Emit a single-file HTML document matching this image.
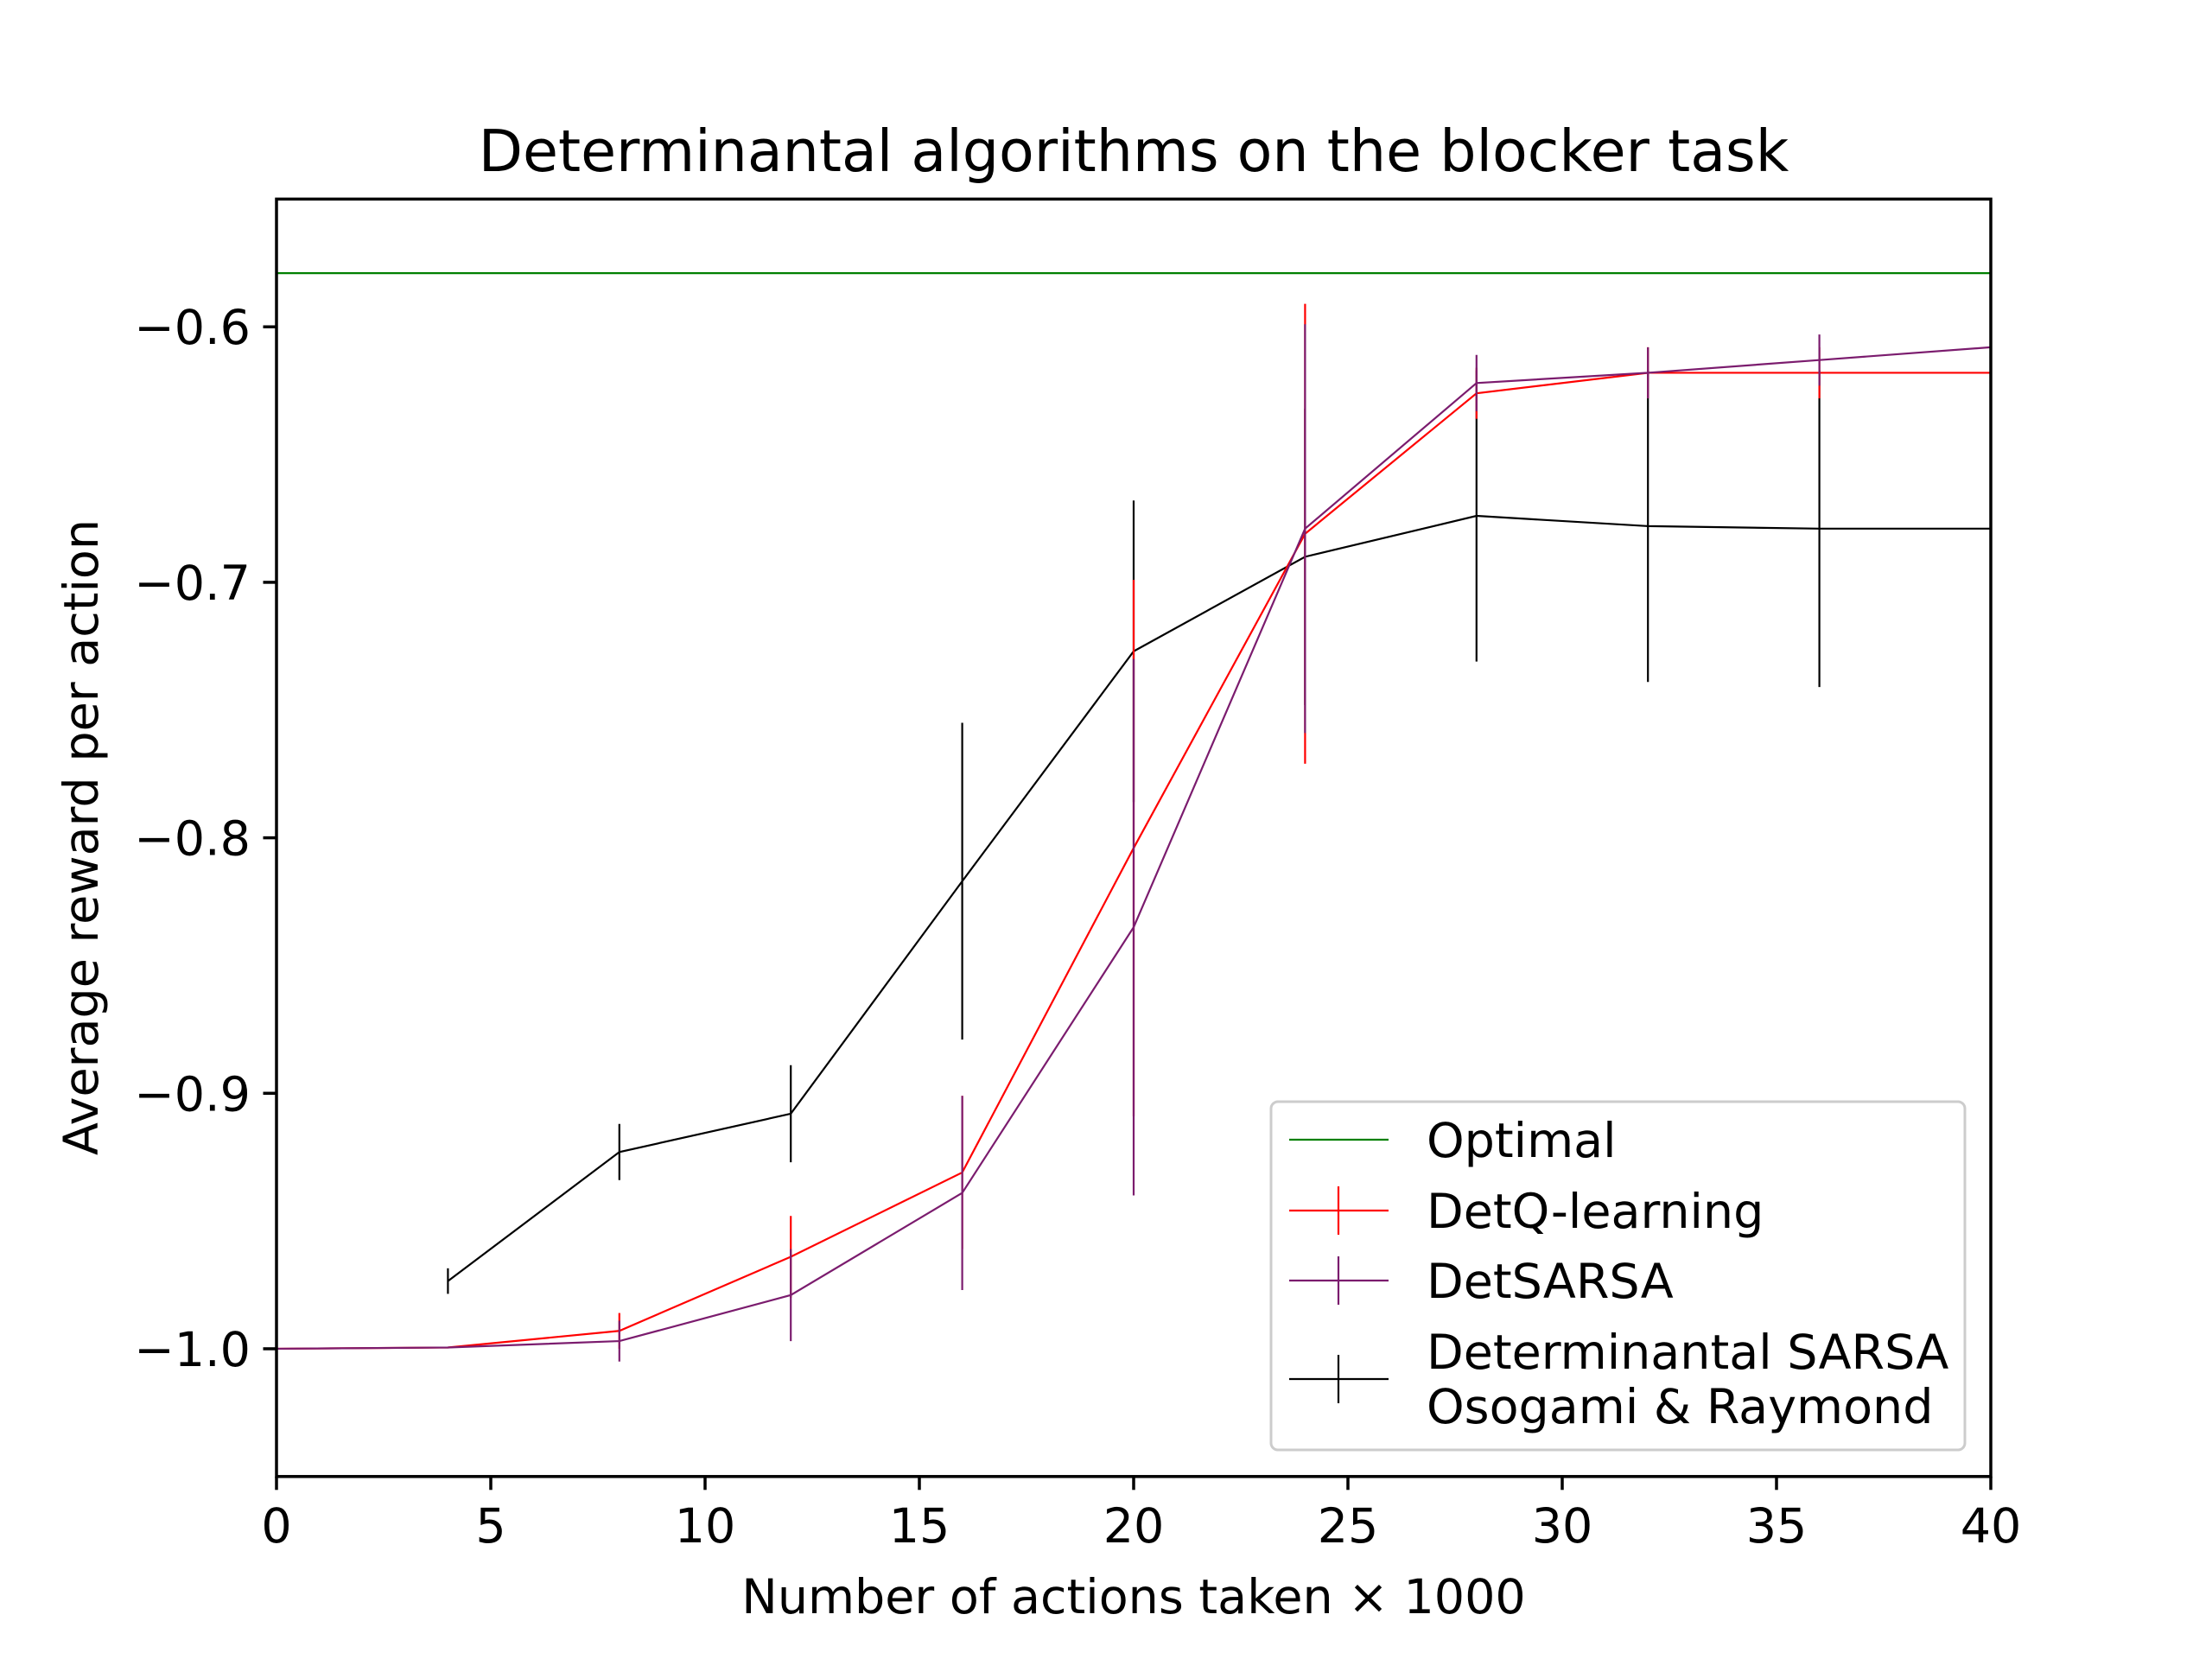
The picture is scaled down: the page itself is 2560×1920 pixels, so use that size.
<!DOCTYPE html>
<html><head><meta charset="utf-8"><style>
html,body{margin:0;padding:0;background:#fff}
svg{display:block;font-family:"DejaVu Sans","Liberation Sans",sans-serif}
</style></head><body>
<svg id="chart" width="2560" height="1920" viewBox="0 0 2560 1920" xmlns="http://www.w3.org/2000/svg">
<rect x="0" y="0" width="2560" height="1920" fill="#fff"/>
<text x="1312" y="198" font-size="66.6" text-anchor="middle">Determinantal algorithms on the blocker task</text>
<text x="1312" y="1867" font-size="55.5" text-anchor="middle">Number of actions taken × 1000</text>
<text transform="translate(113,969) rotate(-90)" font-size="55.5" text-anchor="middle">Average reward per action</text>
<g id="plot"></g>
<g id="axes"></g>
<g id="legend"></g>
</svg>
<script>
const xs = [0,4,8,12,16,20,24,28,32,36,40];
const optimal = -0.579;
const detqY = [-1.0,-0.9995,-0.993,-0.964,-0.931,-0.804,-0.681,-0.626,-0.618,-0.618,-0.618];
const detqErr = [0,0,0.007,0.016,0.03,0.105,0.09,0.01,0.01,0.01,0];
const detsarsaY = [-1.0,-0.9995,-0.997,-0.979,-0.939,-0.835,-0.679,-0.622,-0.618,-0.613,-0.608];
const detsarsaErr = [0,0,0.008,0.018,0.038,0.105,0.08,0.011,0.01,0.01,0];
const osoX = [4,8,12,16,20,24,28,32,36,40];
const osoY = [-0.9735,-0.923,-0.908,-0.817,-0.727,-0.690,-0.674,-0.678,-0.679,-0.679];
const osoErr = [0.005,0.011,0.019,0.062,0.059,0.058,0.057,0.061,0.062,0];
const xTicks = [0,5,10,15,20,25,30,35,40];
const yTicks = [-1.0,-0.9,-0.8,-0.7,-0.6];
const yTickLabels = ["\u22121.0","\u22120.9","\u22120.8","\u22120.7","\u22120.6"];

const L=320,R=2304,T=230.4,B=1708.8,xmin=0,xmax=40,ymin=-1.05,ymax=-0.55;
const X=v=>L+(v-xmin)/(xmax-xmin)*(R-L);
const Y=v=>B-(v-ymin)/(ymax-ymin)*(B-T);
const NS="http://www.w3.org/2000/svg";
function mk(tag,attrs,parent){const e=document.createElementNS(NS,tag);for(const k in attrs)e.setAttribute(k,attrs[k]);parent.appendChild(e);return e;}
const plot=document.getElementById('plot'),axes=document.getElementById('axes'),leg=document.getElementById('legend');

let o=mk('line',{x1:L,x2:R,y1:Y(optimal),y2:Y(optimal),stroke:'#008000','stroke-width':2.2},plot);



function series(xv,yv,ev,color,name){
  const g=mk('g',{},plot);
  
  
  xv.forEach((x,i)=>{
    if(ev[i]>0){
      const e=mk('line',{x1:X(x),x2:X(x),y1:Y(yv[i]-ev[i]),y2:Y(yv[i]+ev[i]),stroke:color,'stroke-width':2.2},g);
      
      
    }
  });
  const p=mk('polyline',{points:xv.map((x,i)=>X(x)+','+Y(yv[i])).join(' '),fill:'none',stroke:color,'stroke-width':2.2},g);
  
  
}
series(osoX,osoY,osoErr,'#000','osogami-raymond');
series(xs,detqY,detqErr,'#ff0000','detq-learning');
series(xs,detsarsaY,detsarsaErr,'#7b1c6e','detsarsa');

let f=mk('rect',{x:L,y:T,width:R-L,height:B-T,fill:'none',stroke:'#000','stroke-width':3.5},axes);


xTicks.forEach(v=>{
  let t=mk('line',{x1:X(v),x2:X(v),y1:B,y2:B+15.5,stroke:'#000','stroke-width':3.5},axes);
  
  
  let l=mk('text',{x:X(v),y:B+76,'font-size':55.5,'text-anchor':'middle'},axes);
  l.textContent=String(v);
  
  
});
yTicks.forEach((v,i)=>{
  let t=mk('line',{x1:L-15.5,x2:L,y1:Y(v),y2:Y(v),stroke:'#000','stroke-width':3.5},axes);
  
  
  let l=mk('text',{x:L-30,y:Y(v)+20,'font-size':55.5,'text-anchor':'end'},axes);
  l.textContent=yTickLabels[i];
  
  
});

let box=mk('rect',{x:1471,y:1275,width:803,height:403,rx:8,fill:'#fff','fill-opacity':0.8,stroke:'#ccc','stroke-width':3},leg);


const entries=[['Optimal','#008000',1319,false],['DetQ-learning','#ff0000',1401,true],['DetSARSA','#7b1c6e',1482,true],['Determinantal SARSA','#000',1596,true]];
entries.forEach(([txt,c,y,eb])=>{
  const g=mk('g',{},leg);
  
  
  mk('line',{x1:1492,x2:1607,y1:y,y2:y,stroke:c,'stroke-width':2.2},g);
  if(eb) mk('line',{x1:1549,x2:1549,y1:y-28,y2:y+28,stroke:c,'stroke-width':2.2},g);
  if(txt==='Determinantal SARSA'){
    let t1=mk('text',{x:1651,y:1584,'font-size':55.5},g);t1.textContent='Determinantal SARSA';
    let t2=mk('text',{x:1651,y:1647,'font-size':55.5},g);t2.textContent='Osogami & Raymond';
  } else {
    let t=mk('text',{x:1651,y:y+20,'font-size':55.5},g);t.textContent=txt;
  }
});
</script>
</body></html>
